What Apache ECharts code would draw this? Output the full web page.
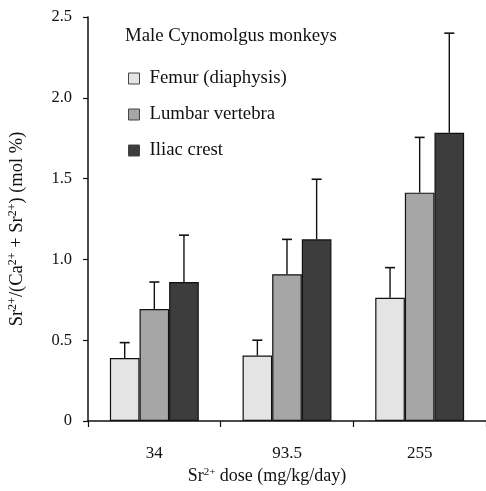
<!DOCTYPE html>
<html><head><meta charset="utf-8">
<script src="https://cdn.jsdelivr.net/npm/echarts@6/dist/echarts.min.js"></script>
<style>html,body{margin:0;padding:0;background:#fff}#c{width:486px;height:491px}</style>
</head><body><div id="c"></div>
<script>
var categories = ['34', '93.5', '255'];
var seriesNames = ['Femur (diaphysis)', 'Lumbar vertebra', 'Iliac crest'];
var femur = [0.39, 0.405, 0.763];
var lumbar = [0.693, 0.908, 1.413];
var iliac = [0.86, 1.124, 1.784];
var femurSD = [0.095, 0.095, 0.186];
var lumbarSD = [0.167, 0.216, 0.342];
var iliacSD = [0.29, 0.372, 0.616];
var yTicks = [0, 0.5, 1.0, 1.5, 2.0, 2.5];

var colors = ['#e4e4e4', '#a6a6a6', '#3d3d3d'];
var means = [femur, lumbar, iliac];
var sds = [femurSD, lumbarSD, iliacSD];
var FONT = '"Liberation Serif", "Times New Roman", serif';
var CAT_GAP = 0.33;

var chart = echarts.init(document.getElementById('c'), null, {renderer: 'canvas'});
var series = [];
means.forEach(function (m, i) {
  series.push({
    name: seriesNames[i], type: 'bar', data: m,
    barGap: 0, barCategoryGap: (CAT_GAP * 100) + '%',
    itemStyle: {color: colors[i], borderColor: '#111', borderWidth: 1.2},
    emphasis: {disabled: true}, z: 2
  });
});
means.forEach(function (m, i) {
  series.push({
    type: 'custom', name: seriesNames[i] + ' SD', z: 3, silent: true,
    data: m.map(function (v, k) { return [k, v, sds[i][k]]; }),
    renderItem: function (params, api) {
      var k = api.value(0), v = api.value(1), sd = api.value(2);
      var band = api.size([1, 0])[0];
      var bw = band * (1 - CAT_GAP) / 3;
      var off = (i - 1) * bw;
      var p0 = api.coord([k, v]);
      var p1 = api.coord([k, v + sd]);
      var x = p0[0] + off;
      var cap = 5;
      return {
        type: 'group',
        children: [
          {type: 'line', shape: {x1: x, y1: p0[1], x2: x, y2: p1[1]}, style: {stroke: '#111', lineWidth: 1.4}},
          {type: 'line', shape: {x1: x - cap, y1: p1[1], x2: x + cap, y2: p1[1]}, style: {stroke: '#111', lineWidth: 1.6}}
        ]
      };
    }
  });
});

chart.setOption({
  animation: false,
  backgroundColor: '#fff',
  textStyle: {fontFamily: FONT},
  title: {
    text: 'Male Cynomolgus monkeys', left: 125, top: 27, padding: 0,
    textStyle: {fontFamily: FONT, fontSize: 18.8, fontWeight: 'normal', color: '#111'}
  },
  legend: {
    data: seriesNames, orient: 'vertical', left: 128, top: 69, padding: 0,
    icon: 'rect', itemWidth: 11, itemHeight: 11, itemGap: 17,
    itemStyle: {borderColor: '#444', borderWidth: 1},
    textStyle: {fontFamily: FONT, fontSize: 18.8, color: '#111', padding: [0, 0, 0, 5]},
    selectedMode: false
  },
  grid: {left: 88, right: 0, top: 17, bottom: 70, containLabel: false, outerBoundsMode: 'none'},
  xAxis: {
    type: 'category', data: categories,
    name: 'Sr{sup|2+} dose (mg/kg/day)', nameLocation: 'middle', nameGap: 45,
    nameTextStyle: {fontFamily: FONT, fontSize: 18, color: '#111', padding: [0, 40, 0, 0],
      rich: {sup: {fontFamily: FONT, fontSize: 11, color: '#111', padding: [0, 0, 8, 0]}}},
    axisLine: {lineStyle: {color: '#111', width: 1.5}},
    axisTick: {show: true, length: 6, inside: false, lineStyle: {color: '#111', width: 1.2}},
    axisLabel: {fontFamily: FONT, fontSize: 17, color: '#111', margin: 24}
  },
  yAxis: {
    type: 'value', min: 0, max: 2.5, interval: 0.5,
    name: 'Sr{sup|2+}/(Ca{sup|2+} + Sr{sup|2+}) (mol %)', nameLocation: 'middle', nameGap: 60,
    nameTextStyle: {fontFamily: FONT, fontSize: 18.5, color: '#111', padding: [0, 20, 0, 0],
      rich: {sup: {fontFamily: FONT, fontSize: 12, color: '#111', padding: [0, 0, 9, 0]}}},
    axisLine: {show: true, lineStyle: {color: '#111', width: 1.5}},
    axisTick: {show: true, length: 5, lineStyle: {color: '#111', width: 1.2}},
    splitLine: {show: false},
    axisLabel: {fontFamily: FONT, fontSize: 16.5, color: '#111', margin: 16,
      formatter: function (v) { return v === 0 ? '0' : v.toFixed(1); }}
  },
  series: series
});
</script></body></html>
